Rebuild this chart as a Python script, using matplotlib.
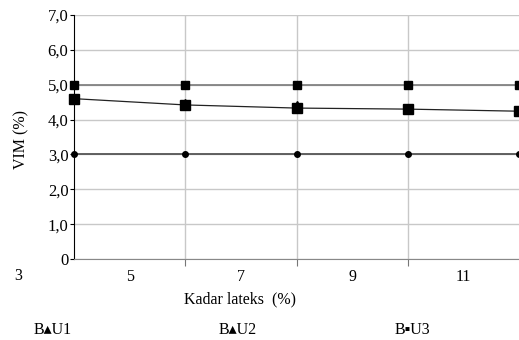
import numpy as np
import matplotlib
matplotlib.use('Agg')
import matplotlib.pyplot as plt

plt.rcParams['font.family'] = ['Liberation Serif', 'DejaVu Sans']

# data
kadar = [4, 6, 8, 10, 12]
vim_atas = [5.0, 5.0, 5.0, 5.0, 5.0]
vim_tengah = [4.6, 4.42, 4.33, 4.3, 4.24]
vim_tengah_b = [4.6, 4.48, 4.42, 4.3, 4.24]
vim_bawah = [3.0, 3.0, 3.0, 3.0, 3.0]
yticks = [0, 1, 2, 3, 4, 5, 6, 7]
ylabels = ['0', '1,0', '2,0', '3,0', '4,0', '5,0', '6,0', '7,0']
xlabels_pos = [5, 7, 9, 11]
legend_names = ['B\u25b4U1', 'B\u25b4U2', 'B\u25aaU3']

fig = plt.figure(figsize=(5.19, 3.40), dpi=100)
ax = fig.add_axes([0.1426, 0.2382, 0.8574, 0.7177])

ax.plot(kadar, vim_atas, color='#7a7a7a', lw=1.2, marker='s', ms=6,
        mfc='black', mec='black', zorder=3, clip_on=False)
ax.plot(kadar, vim_tengah, color='#222222', lw=0.9, marker='s', ms=7,
        mfc='black', mec='black', zorder=4, clip_on=False)
ax.plot(kadar, vim_tengah_b, color='none', marker='^', ms=6,
        mfc='black', mec='black', zorder=4, clip_on=False)
ax.plot(kadar, vim_bawah, color='#555555', lw=1.3, marker='o', ms=4,
        mfc='black', mec='black', zorder=3, clip_on=False)

ax.set_xlim(4, 12)
ax.set_ylim(0, 7)

ax.set_yticks(yticks)
ax.set_yticklabels(ylabels)
ax.set_xticks([6, 8, 10])
ax.set_xticklabels([])
ax.set_xticks(xlabels_pos, minor=True)
ax.set_xticklabels([str(v) for v in xlabels_pos], minor=True)
ax.tick_params(axis='x', which='minor', length=0, pad=7, labelsize=11.5)
ax.tick_params(axis='x', which='major', length=5, color='#777777')
ax.tick_params(axis='y', length=3, pad=1, labelsize=12)
ax.text(3, -0.25, '3', ha='center', va='top', fontsize=11.5, clip_on=False,
        transform=ax.transData)

ax.grid(True, which='major', color='#c8c8c8', lw=1.0)
ax.set_axisbelow(True)
for s in ['top', 'right']:
    ax.spines[s].set_visible(False)
ax.spines['left'].set_color('black')
ax.spines['bottom'].set_color('#888888')

fig.text(0.042, 0.59, 'VIM (%)', rotation=90, ha='center', va='center',
         fontsize=11.5)
fig.text(0.462, 0.12, 'Kadar lateks  (%)', ha='center', va='center',
         fontsize=11.5)
for xpos, name in zip([0.102, 0.458, 0.795], legend_names):
    fig.text(xpos, 0.028, name, ha='center', va='center', fontsize=11.5)

fig.savefig('out.png', dpi=100)
